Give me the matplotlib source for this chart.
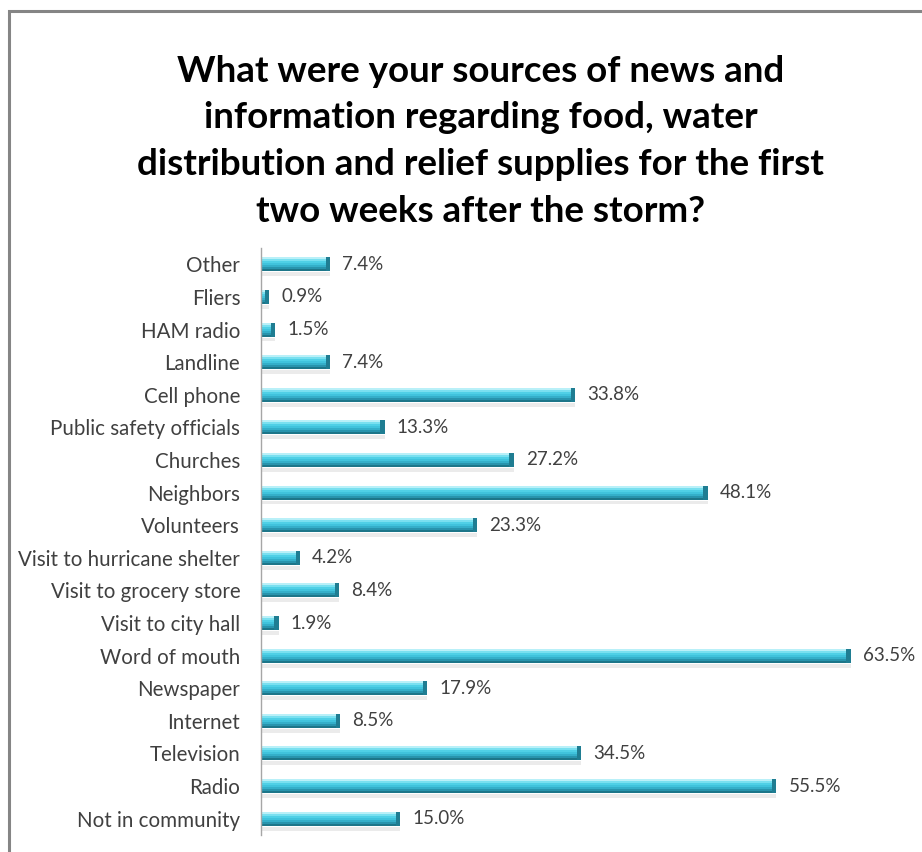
import matplotlib
matplotlib.use('Agg')
import matplotlib.pyplot as plt
from matplotlib.patches import Rectangle
import numpy as np

# ----------------------------------------------------------------
# Survey data (top of chart first)
# ----------------------------------------------------------------
sources = ['Other', 'Fliers', 'HAM radio', 'Landline', 'Cell phone',
           'Public safety officials', 'Churches', 'Neighbors', 'Volunteers',
           'Visit to hurricane shelter', 'Visit to grocery store',
           'Visit to city hall', 'Word of mouth', 'Newspaper', 'Internet',
           'Television', 'Radio', 'Not in community']
pct = [7.4, 0.9, 1.5, 7.4, 33.8, 13.3, 27.2, 48.1, 23.3,
       4.2, 8.4, 1.9, 63.5, 17.9, 8.5, 34.5, 55.5, 15.0]

title = ('What were your sources of news and\n'
         'information regarding food, water\n'
         'distribution and relief supplies for the first\n'
         'two weeks after the storm?')

plt.rcParams['font.family'] = ['Lato', 'DejaVu Sans']

fig = plt.figure(figsize=(9.22, 8.52), dpi=100)
fig.patch.set_facecolor('white')

# outer frame
fig.patches.append(Rectangle((9 / 922, -0.1), 1.2, 1 - 11 / 852 + 0.1,
                             transform=fig.transFigure, fill=False,
                             edgecolor='#858585', linewidth=2.2))

fig.text(0.521, 1 - 55 / 852, title, ha='center', va='top',
         fontsize=26.5, fontweight='bold', color='black', linespacing=1.5)

ax = fig.add_axes([261 / 922, 17 / 852, 650 / 922, 587 / 852])
y = np.arange(len(sources))
vals = np.array(pct)

# fake cylinder shading: stacked strips from light top to dark bottom
bar_h = 0.43
shades = ['#b9f0f8', '#79e0f0', '#4fd0e6', '#40c3dc', '#34afc9', '#2894ad', '#1d7689']
strip = bar_h / len(shades)
ax.barh(y + bar_h / 2 + 0.09, vals, height=0.12, color='#000000', alpha=0.08, zorder=1)
for k, c in enumerate(shades):
    ax.barh(y - bar_h / 2 + strip * (k + 0.5), vals, height=strip,
            color=c, linewidth=0, zorder=2)
# darker end cap
cap = np.minimum(vals, 0.45)
ax.barh(y, cap, left=vals - cap, height=bar_h, color='#1f7d92', linewidth=0, zorder=3)

for yi, v in zip(y, vals):
    ax.text(v + 1.3, yi, f'{v:.1f}%', va='center', ha='left',
            fontsize=13.5, color='#404040')

ax.set_xlim(0, 70)
ax.set_ylim(len(sources) - 0.5, -0.5)
ax.set_yticks(y)
ax.set_yticklabels(sources, fontsize=14.8, color='#404040')
ax.set_xticks([])
ax.tick_params(axis='y', length=0, pad=15)
for s in ['top', 'right', 'bottom']:
    ax.spines[s].set_visible(False)
ax.spines['left'].set_color('#a6a6a6')
ax.spines['left'].set_linewidth(1)

fig.savefig('out.png', dpi=100)
